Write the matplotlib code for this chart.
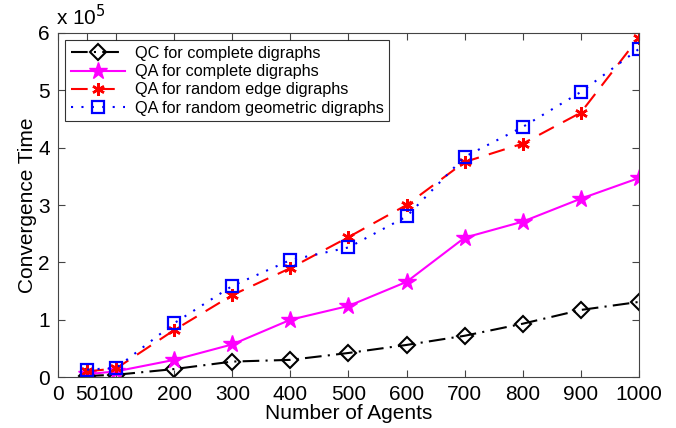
import matplotlib
matplotlib.use("Agg")
import matplotlib.pyplot as plt

agents = [50, 100, 200, 300, 400, 500, 600, 700, 800, 900, 1000]
# convergence time in units of 1e5
qc_complete = [0.02, 0.04, 0.14, 0.27, 0.30, 0.42, 0.56, 0.72, 0.93, 1.17, 1.31]
qa_complete = [0.05, 0.10, 0.30, 0.57, 1.00, 1.24, 1.66, 2.43, 2.71, 3.11, 3.47]
qa_random_edge = [0.10, 0.15, 0.82, 1.43, 1.90, 2.44, 3.00, 3.75, 4.07, 4.61, 5.92]
qa_random_geo = [0.13, 0.16, 0.94, 1.59, 2.04, 2.26, 2.80, 3.84, 4.36, 4.97, 5.72]

xticks = [0, 50, 100, 200, 300, 400, 500, 600, 700, 800, 900, 1000]

plt.rcParams["font.family"] = ["Liberation Sans", "DejaVu Sans"]

fig = plt.figure(figsize=(6.76, 4.28), dpi=100)
ax = fig.add_axes([0.086, 0.119, 0.859, 0.804])

ax.plot(agents, qc_complete, color="black", ls=(0, (8, 3, 1, 3)), lw=1.5,
        marker="D", ms=8.5, mfc="none", mec="black", mew=1.5,
        label="QC for complete digraphs")
ax.plot(agents, qa_complete, color="magenta", ls="-", lw=1.5,
        marker="*", ms=13, mfc="magenta", mec="magenta",
        label="QA for complete digraphs")
ax.plot(agents, qa_random_edge, color="red", ls=(0, (8, 5)), lw=1.5,
        marker=(6, 2, 0), ms=9, mec="red", mew=1.8,
        label="QA for random edge digraphs")
ax.plot(agents, qa_random_geo, color="blue", ls=(0, (1, 4)), lw=1.5,
        marker="s", ms=8.5, mfc="none", mec="blue", mew=1.6,
        label="QA for random geometric digraphs")

ax.set_xlim(0, 1000)
ax.set_ylim(0, 6)
ax.set_xticks(xticks)
ax.set_xticklabels([str(t) for t in xticks])
ax.set_yticks(range(7))
ax.tick_params(direction="in", top=True, right=True, labelsize=15, length=5,
               color="#444444", pad=6)
for s in ax.spines.values():
    s.set_color("#444444")
ax.set_xlabel("Number of Agents", fontsize=15, labelpad=0)
ax.set_ylabel("Convergence Time", fontsize=15, labelpad=1)
ax.text(-0.003, 1.012, r"x 10$^5$", transform=ax.transAxes, fontsize=15,
        ha="left", va="bottom")

leg = ax.legend(loc="upper left", fontsize=11.7, frameon=True, fancybox=False,
                edgecolor="black", handlelength=3.3, borderaxespad=0.45,
                labelspacing=0.2, borderpad=0.35, handletextpad=0.6)
leg.get_frame().set_linewidth(0.8)

fig.savefig("out.png", dpi=100)
